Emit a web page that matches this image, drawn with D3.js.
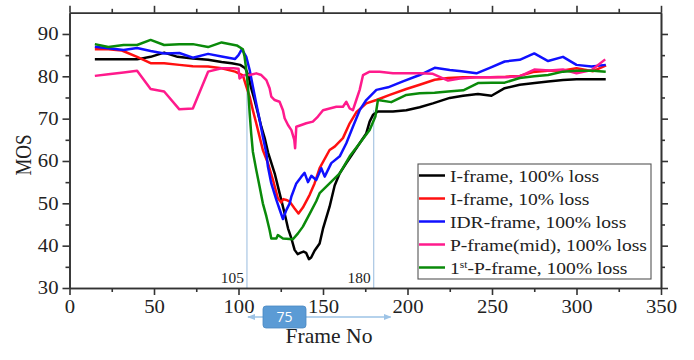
<!DOCTYPE html>
<html>
<head>
<meta charset="utf-8">
<script src="https://cdn.jsdelivr.net/npm/d3@7"></script>
<style>
  body { margin: 0; background: #fff; }
  svg { display: block; }
  .serif { font-family: "Liberation Serif", "Times New Roman", serif; fill: #222; }
</style>
</head>
<body>
<div id="chart"></div>
<script>
// frame numbers / MOS, one pair of arrays per curve
const iFrame100Frames = [15,23,31,40,48,56,64,73,82,90,96,101,104,106,107.5,109.5,111.5,113.5,115.5,117.5,121.4,124.3,127.3,129.3,131.3,133.2,135,136.5,138.5,140,141.7,143,145,148,150,153.9,156.9,159.9,163.8,167.7,171.7,175.6,177.6,179.6,182.5,191.4,199.3,207.2,215,225,232.9,241.7,249.7,257.5,266.4,275.3,283.2,292,300,309.8,317.3];
const iFrame100Mos = [84.0,84.0,84.0,84.0,84.6,85.6,84.6,84.2,83.9,83.4,83.1,82.7,81.9,80.0,77.2,74.4,71.3,68.1,65.4,62.0,57.1,52.4,47.6,44.1,41.7,39.0,38.0,38.3,38.6,38.3,36.8,37.2,38.8,40.5,44.0,49.2,54.2,57.1,59.5,61.8,64.2,66.5,69.3,70.9,71.7,71.7,72.0,72.7,73.6,74.9,75.4,75.8,75.4,77.2,78.0,78.4,78.8,79.1,79.3,79.3,79.3];

const iFrame10Frames = [15,23,31,40,48,56,65,73,82,90,98,102.6,104.6,106.6,108.5,110.5,112.5,114.4,117.4,120.4,123.3,125.3,126.5,128.3,130.3,133.2,135.5,138.1,142.1,145,148,153.9,156.9,161.8,165.8,169.7,175.6,181.6,189.5,199.3,207.2,216.1,224,232.9,241,249,258,266.4,274.3,283,292,300,309.8,317.5];
const iFrame10Mos = [86.4,86.4,86.1,84.6,83.1,83.1,82.7,82.4,82.3,81.9,81.1,80.2,77.6,75.2,72.0,68.9,65.7,62.6,59.5,55.5,51.2,50.2,51.0,50.8,50.4,48.8,47.6,49.0,52.0,54.7,58.3,62.6,63.4,65.4,68.9,71.5,73.6,74.4,75.6,77.0,78.0,79.2,79.6,79.8,79.8,79.8,79.9,80.1,81.0,81.3,81.4,81.9,81.2,82.6];

const idrFrames = [15,23,32,40,48,56,65,73,82,90,98,100,102,104.6,106.6,108.5,110.5,112.5,114.4,116.5,117.4,119.4,122.4,124.3,126.3,128.3,130.3,131.3,134.2,137.2,139.1,141.1,143.1,146,149,151,154.9,159.9,163.8,167.7,171.7,175.6,181.6,188.5,197.3,207.2,216.1,225,232,240.8,248.7,257.5,266.4,275,283.2,292,300,308.9,317.3];
const idrMos = [87.0,86.6,86.2,86.7,86.0,85.4,85.5,84.4,85.3,84.7,84.1,85.0,86.4,84.6,81.5,77.6,73.6,69.7,65.7,61.8,58.7,54.7,50.8,48.6,46.3,48.4,50.0,51.6,54.7,56.3,57.2,55.0,56.5,55.5,58.3,56.3,59.5,61.1,64.2,68.1,72.0,74.4,76.8,77.4,78.8,80.3,82.0,81.5,81.2,80.7,82.0,83.5,83.9,85.4,83.6,84.6,82.7,82.3,82.7];

const pMidFrames = [15,23,32,40,48,56,65,73,82,90,97,100,100.6,103.6,106.6,110.5,113.5,116.5,118.4,119.4,121.4,124.3,126.3,127.3,129.3,131.3,133,133.5,134.2,137.2,140.1,144,147,150,153.9,157.9,161.8,163.8,165.8,167.7,169.7,171.7,173.7,177.6,183.5,191.4,199.3,207.2,215,224,231,240.8,248.7,258.5,266.4,275,284,292,300,309,317];
const pMidMos = [80.1,80.5,80.9,81.3,77.0,76.4,72.2,72.4,81.1,81.9,81.9,81.8,79.5,80.3,80.3,80.7,80.3,79.1,77.2,75.2,74.4,74.0,72.0,70.1,68.5,67.3,65.0,63.0,68.1,68.5,68.9,69.3,70.5,72.0,72.4,72.8,72.8,74.0,72.4,72.0,74.4,76.8,80.3,81.1,81.1,80.7,80.7,80.7,80.6,79.0,79.5,79.8,79.8,79.8,80.0,81.6,81.4,81.6,80.7,81.5,84.0];

const firstPFrames = [15,23,32,40,48,56,65,73,82,90,99,102.6,103.6,104.6,105.6,106.6,107.5,108.5,110.5,112.5,114.4,116.5,118.4,119.4,122.4,123.3,126.3,132.2,135.2,138.1,142.1,146,148,153.9,159.9,165.8,171.7,177.6,181,182.5,190.4,199.3,207.2,216,224,233,241.7,250,257.5,266.4,275,283.2,292,300,309.8,317.3];
const firstPMos = [87.6,86.9,87.4,87.4,88.6,87.4,87.6,87.6,86.9,88.0,87.3,86.4,84.6,81.5,77.6,71.3,66.5,62.2,57.9,53.9,50.0,46.9,43.7,41.7,41.7,42.5,41.7,41.5,42.9,44.5,47.5,50.5,52.4,54.7,57.1,61.1,64.2,67.3,70.5,74.4,73.9,75.6,76.0,76.1,76.4,76.7,78.4,78.5,78.5,79.6,80.0,80.3,81.1,81.3,81.3,81.1];

const seriesNames = ['I-frame, 100% loss', 'I-frame, 10% loss', 'IDR-frame, 100% loss', 'P-frame(mid), 100% loss', '1st-P-frame, 100% loss'];
const seriesColors = ['#000000', '#ff1010', '#1010ff', '#ff1a8c', '#0a8a0a'];
const seriesFrames = [iFrame100Frames, iFrame10Frames, idrFrames, pMidFrames, firstPFrames];
const seriesMos = [iFrame100Mos, iFrame10Mos, idrMos, pMidMos, firstPMos];

const xMajorTicks = [0, 50, 100, 150, 200, 250, 300, 350];
const xMinorTicks = [25, 75, 125, 175, 225, 275, 325];
const yMajorTicks = [30, 40, 50, 60, 70, 80, 90];
const yMinorTicks = [35, 45, 55, 65, 75, 85];

// loss window marked under the curves
const markFrames = [105, 180];
const markTops = [81, 72];
const spanLabel = '75';
const arrowFrames = [105, 190];

const W = 694, H = 360;
const svg = d3.select('#chart').append('svg').attr('width', W).attr('height', H);

const x = d3.scaleLinear().domain([0, 350]).range([69.5, 661]);
const y = d3.scaleLinear().domain([30, 95]).range([288, 12.8]);

const STRETCH = 1.15; // source text is drawn a bit wide

// vertical guide lines + labels
markFrames.forEach((f, i) => {
    svg.append('line')
        .attr('x1', x(f)).attr('x2', x(f))
        .attr('y1', y(markTops[i])).attr('y2', y(30))
        .attr('stroke', '#a9c6e3').attr('stroke-width', 1.2);
    svg.append('text').attr('class', 'serif')
        .attr('transform', `translate(${x(f) - 3},283) scale(1.1,1)`)
        .attr('text-anchor', 'end')
        .style('font-size', '14px')
        .text(f);
});

// curves
const line = d3.line().x(d => x(d[0])).y(d => y(d[1]));
seriesFrames.forEach((frames, i) => {
    const pts = frames.map((f, j) => [f, seriesMos[i][j]]);
    svg.append('path')
        .datum(pts)
        .attr('d', line)
        .attr('fill', 'none')
        .attr('stroke', seriesColors[i])
        .attr('stroke-width', 2.5)
        .attr('stroke-linejoin', 'round');
});

// axes: labelled left/bottom, ticks only top/right
const axisG = svg.append('g').attr('class', 'axes');
function styleAxis(g) {
    g.selectAll('path,line').attr('stroke', '#333').attr('stroke-width', 1.6);
    g.selectAll('text').attr('class', 'serif').style('font-size', '18px').attr('fill', '#222');
}

const bottom = axisG.append('g').attr('transform', 'translate(0,288)')
    .call(d3.axisBottom(x).tickValues(xMajorTicks).tickSize(7).tickSizeOuter(0).tickPadding(5).tickFormat(d3.format('d')));
styleAxis(bottom);
bottom.selectAll('text').attr('transform', `scale(${STRETCH},1)`);
axisG.append('g').attr('transform', 'translate(0,288)')
    .call(d3.axisBottom(x).tickValues(xMinorTicks).tickSize(4).tickSizeOuter(0).tickFormat(''))
    .call(styleAxis);

const left = axisG.append('g').attr('transform', 'translate(69.5,0)')
    .call(d3.axisLeft(y).tickValues(yMajorTicks).tickSize(7).tickSizeOuter(0).tickPadding(4).tickFormat(d3.format('d')));
styleAxis(left);
left.selectAll('text').attr('x', -11 / STRETCH).attr('transform', `scale(${STRETCH},1)`);
axisG.append('g').attr('transform', 'translate(69.5,0)')
    .call(d3.axisLeft(y).tickValues(yMinorTicks).tickSize(4).tickSizeOuter(0).tickFormat(''))
    .call(styleAxis);

axisG.append('g').attr('transform', 'translate(0,12.8)')
    .call(d3.axisTop(x).tickValues(xMajorTicks).tickSize(7).tickSizeOuter(0).tickFormat(''))
    .call(styleAxis);
axisG.append('g').attr('transform', 'translate(0,12.8)')
    .call(d3.axisTop(x).tickValues(xMinorTicks).tickSize(4).tickSizeOuter(0).tickFormat(''))
    .call(styleAxis);

axisG.append('g').attr('transform', 'translate(661,0)')
    .call(d3.axisRight(y).tickValues(yMajorTicks).tickSize(7).tickSizeOuter(0).tickFormat(''))
    .call(styleAxis);
axisG.append('g').attr('transform', 'translate(661,0)')
    .call(d3.axisRight(y).tickValues(yMinorTicks).tickSize(4).tickSizeOuter(0).tickFormat(''))
    .call(styleAxis);

// axis titles
svg.append('text').attr('class', 'serif')
    .attr('transform', 'translate(329,343) scale(1.08,1)')
    .attr('text-anchor', 'middle')
    .style('font-size', '20px')
    .text('Frame No');
svg.append('text').attr('class', 'serif')
    .attr('transform', 'translate(31,155) rotate(-90) scale(1,1.2)')
    .attr('text-anchor', 'middle')
    .style('font-size', '19px')
    .text('MOS');

// span arrow with the "75" box
const defs = svg.append('defs');
defs.append('marker').attr('id', 'ah')
    .attr('viewBox', '0 0 10 10').attr('refX', 9).attr('refY', 5)
    .attr('markerWidth', 6).attr('markerHeight', 6).attr('orient', 'auto-start-reverse')
    .append('path').attr('d', 'M0,1 L10,5 L0,9 Z').attr('fill', '#9dc3e6');
svg.append('line')
    .attr('x1', x(arrowFrames[0]) + 1).attr('x2', x(arrowFrames[1]))
    .attr('y1', 317).attr('y2', 317)
    .attr('stroke', '#9dc3e6').attr('stroke-width', 1.3)
    .attr('marker-start', 'url(#ah)').attr('marker-end', 'url(#ah)');
svg.append('rect')
    .attr('x', 263).attr('y', 306).attr('width', 43).attr('height', 22).attr('rx', 3)
    .attr('fill', '#5b9bd5').attr('stroke', '#4a88c2').attr('stroke-width', 0.8);
svg.append('text')
    .attr('x', 284.5).attr('y', 322)
    .attr('text-anchor', 'middle')
    .style('font-family', '"Open Sans", "DejaVu Sans", sans-serif')
    .style('font-size', '14px')
    .attr('fill', '#fff')
    .text(spanLabel);

// legend
const lg = svg.append('g').attr('transform', 'translate(418,164)');
lg.append('rect').attr('width', 233).attr('height', 115)
    .attr('fill', '#fff').attr('stroke', '#555').attr('stroke-width', 1.1);
seriesNames.forEach((name, i) => {
    const cy = 11.5 + i * 23;
    lg.append('line').attr('x1', 1).attr('x2', 27).attr('y1', cy).attr('y2', cy)
        .attr('stroke', seriesColors[i]).attr('stroke-width', 2.5);
    const t = lg.append('text').attr('class', 'serif')
        .attr('transform', `translate(32,${cy + 6}) scale(${STRETCH},1)`)
        .style('font-size', '17px');
    if (name.startsWith('1st')) {
        t.append('tspan').text('1');
        t.append('tspan').attr('dy', -6).style('font-size', '10px').text('st');
        t.append('tspan').attr('dy', 6).text(name.slice(3));
    } else {
        t.text(name);
    }
});
</script>
</body>
</html>
